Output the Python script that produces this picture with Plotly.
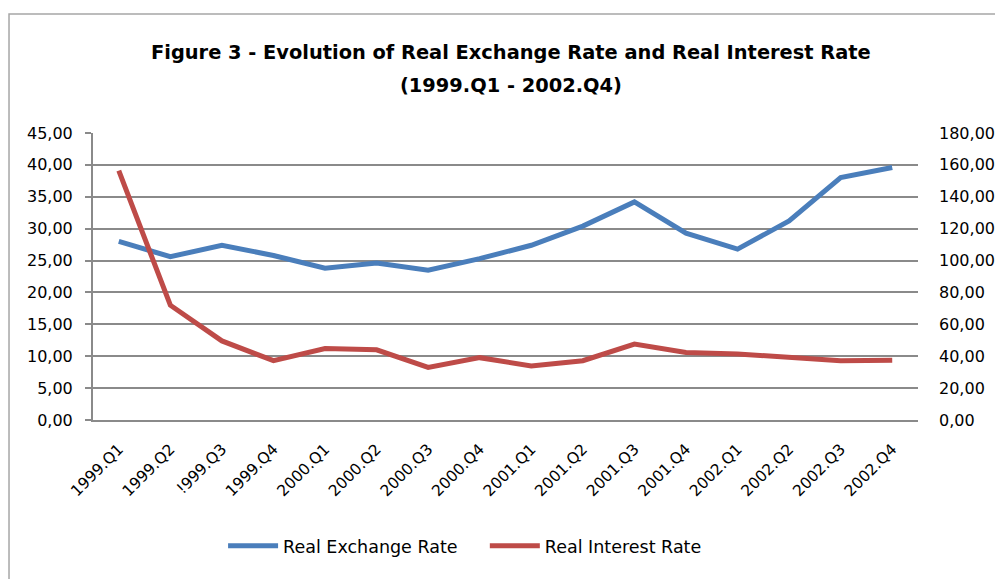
import plotly.graph_objects as go

quarters = ["1999.Q1", "1999.Q2", "!999.Q3", "1999.Q4",
            "2000.Q1", "2000.Q2", "2000.Q3", "2000.Q4",
            "2001.Q1", "2001.Q2", "2001.Q3", "2001.Q4",
            "2002.Q1", "2002.Q2", "2002.Q3", "2002.Q4"]

real_exchange_rate = [28.0, 25.6, 27.4, 25.8, 23.8, 24.6, 23.5, 25.3,
                      27.4, 30.4, 34.2, 29.3, 26.8, 31.2, 38.0, 39.6]

real_interest_rate = [156.4, 72.0, 49.6, 37.2, 44.8, 44.0, 33.0, 39.1,
                      33.9, 37.2, 47.6, 42.4, 41.4, 39.2, 37.2, 37.4]

left_ticks = [0, 5, 10, 15, 20, 25, 30, 35, 40, 45]
right_ticks = [0, 20, 40, 60, 80, 100, 120, 140, 160, 180]

title_lines = ["Figure 3 - Evolution of Real Exchange Rate and Real Interest Rate",
               "(1999.Q1 - 2002.Q4)"]

FONT = "DejaVu Sans, sans-serif"
GRID = "#8a8a8a"
PAD = "\u00a0" * 4

fig = go.Figure()
fig.add_trace(go.Scatter(
    x=quarters, y=real_exchange_rate, name="Real Exchange Rate" + PAD,
    mode="lines", line=dict(color="#4a7ebb", width=5), yaxis="y"))
fig.add_trace(go.Scatter(
    x=quarters, y=real_interest_rate, name="Real Interest Rate",
    mode="lines", line=dict(color="#be4b48", width=5), yaxis="y2"))

fig.update_layout(
    width=1003, height=579,
    margin=dict(l=85, r=93, t=125, b=167, autoexpand=False),
    paper_bgcolor="white", plot_bgcolor="white",
    separators=",.",
    font=dict(family=FONT, color="#000000", size=16),
    xaxis=dict(
        type="category", range=[-0.5, 15.5], tickangle=-45,
        showgrid=False, showline=True, linecolor=GRID, linewidth=2,
        ticks="", ticklabelstandoff=12, automargin=False,
        tickfont=dict(size=15.5, family=FONT)),
    yaxis=dict(
        range=[0, 45], tickvals=left_ticks, tickformat=".2f",
        showgrid=True, gridcolor=GRID, gridwidth=1.6,
        showline=True, linecolor=GRID, linewidth=2,
        ticks="outside", ticklen=6, tickcolor=GRID, tickwidth=1.6,
        ticklabelstandoff=9, automargin=False,
        zeroline=False, tickfont=dict(size=16, family=FONT)),
    yaxis2=dict(
        range=[0, 180], tickvals=right_ticks, tickformat=".2f",
        overlaying="y", side="right", showgrid=False,
        showline=False, ticks="", ticklabelstandoff=20, automargin=False,
        zeroline=False, tickfont=dict(size=16, family=FONT)),
    legend=dict(
        orientation="h", x=0.451, xanchor="center", y=-0.439, yanchor="middle",
        font=dict(size=17.5, family=FONT), itemwidth=50,
        bgcolor="rgba(0,0,0,0)"),
    annotations=[
        dict(text="<b>" + title_lines[0] + "</b>", xref="paper", yref="paper",
             x=0.507, y=1.282, xanchor="center", yanchor="middle",
             showarrow=False, font=dict(size=19.4, family=FONT)),
        dict(text="<b>" + title_lines[1] + "</b>", xref="paper", yref="paper",
             x=0.507, y=1.164, xanchor="center", yanchor="middle",
             showarrow=False, font=dict(size=19.4, family=FONT)),
    ],
    shapes=[dict(
        type="rect", xref="paper", yref="paper",
        x0=-0.1018, x1=1.2, y0=-1.0, y1=1.4146,
        line=dict(color="#a6a6a6", width=1.5), layer="below")],
)

fig.write_html("out.html")
